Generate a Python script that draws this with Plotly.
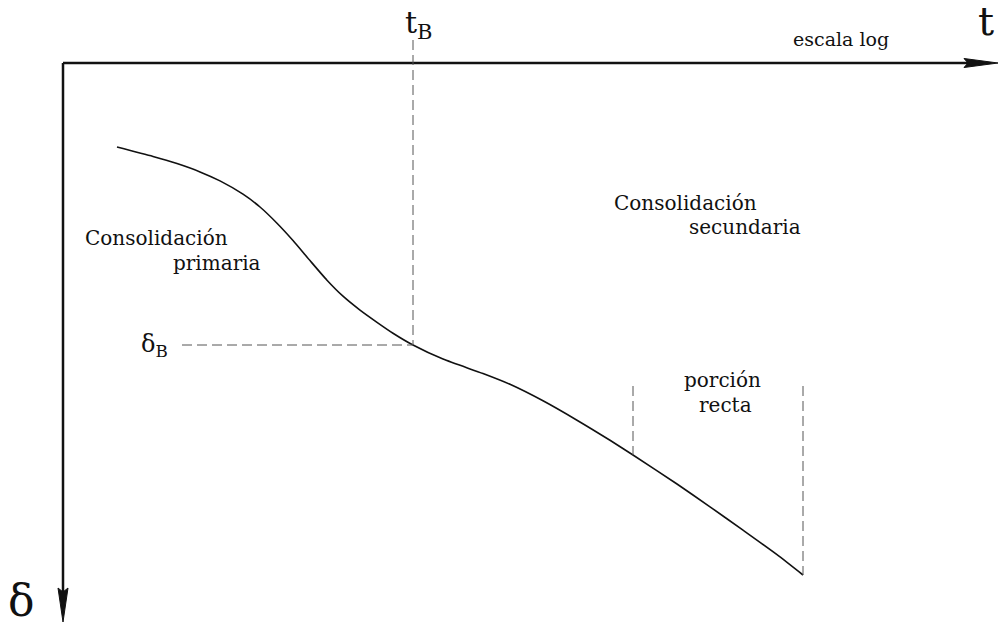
import plotly.graph_objects as go

# Settlement curve (log t position, settlement delta), drawing units
curve_t = [117, 153, 177, 200, 220, 243, 260, 277, 293, 310, 327, 343, 360, 377, 393, 413,
           443, 483, 510, 543, 577, 610, 633, 677, 710, 743, 777, 803]
curve_d = [147, 156.4, 163.6, 171.9, 180.9, 194.2, 207, 223.2, 240.5, 260.6, 280.2, 296.2,
           310.1, 322.3, 333.2, 345, 359.1, 373.5, 384.3, 400.8, 420.2, 440.3, 455, 484,
           506.8, 530.2, 554.7, 575]

# End of primary consolidation
t_B = 413
delta_B = 345

# Straight-line portion bounds
recta_start = 633
recta_end = 803

W, H = 1004, 631
ORIGIN = 63
FONT = "DejaVu Serif"
INK = "#111111"
DASH = "#555555"

fig = go.Figure()
fig.add_trace(go.Scatter(x=curve_t, y=curve_d, mode="lines",
                         line=dict(color=INK, width=1.6, shape="spline", smoothing=0.6),
                         hoverinfo="skip", showlegend=False))

shapes = [
    # axes
    dict(type="line", x0=ORIGIN, y0=ORIGIN, x1=968, y1=ORIGIN, line=dict(color=INK, width=2.5)),
    dict(type="line", x0=ORIGIN, y0=ORIGIN, x1=ORIGIN, y1=592, line=dict(color=INK, width=2.5)),
    # arrowheads
    dict(type="path", path="M 964 58.5 L 998 63 L 964 67.5 L 968 63 Z",
         fillcolor=INK, line=dict(color=INK, width=1)),
    dict(type="path", path="M 58 588 L 63 622 L 68 588 L 63 592 Z",
         fillcolor=INK, line=dict(color=INK, width=1)),
    # guide lines at t_B / delta_B
    dict(type="line", x0=t_B, y0=40, x1=t_B, y1=delta_B, line=dict(color=DASH, width=1, dash="10px,5px")),
    dict(type="line", x0=182, y0=delta_B, x1=t_B, y1=delta_B, line=dict(color=DASH, width=1, dash="10px,5px")),
    # straight portion markers
    dict(type="line", x0=recta_start, y0=386, x1=recta_start, y1=455, line=dict(color=DASH, width=1, dash="10px,5px")),
    dict(type="line", x0=recta_end, y0=386, x1=recta_end, y1=575, line=dict(color=DASH, width=1, dash="10px,5px")),
]

def txt(x, y, s, size, anchor="left"):
    return dict(x=x, y=y, text=s, showarrow=False, xanchor=anchor, yanchor="middle",
                font=dict(family=FONT, size=size, color=INK))

annotations = [
    txt(403, 24, "t<sub>B</sub>", 30),
    txt(976, 21, "t", 40),
    txt(791, 39, "escala log", 19),
    txt(6, 600, "δ", 44),
    txt(139, 345, "δ<sub>B</sub>", 24),
    txt(83, 238, "Consolidación", 20),
    txt(171, 263, "primaria", 20),
    txt(612, 203, "Consolidación", 20),
    txt(687, 227, "secundaria", 20),
    txt(682, 380, "porción", 20),
    txt(697, 405, "recta", 20),
]

fig.update_layout(
    width=W, height=H,
    margin=dict(l=0, r=0, t=0, b=0),
    paper_bgcolor="white", plot_bgcolor="white",
    font=dict(family=FONT),
    xaxis=dict(range=[0, W], visible=False, fixedrange=True),
    yaxis=dict(range=[H, 0], visible=False, fixedrange=True),
    shapes=shapes, annotations=annotations,
)

fig.write_html("out.html")
